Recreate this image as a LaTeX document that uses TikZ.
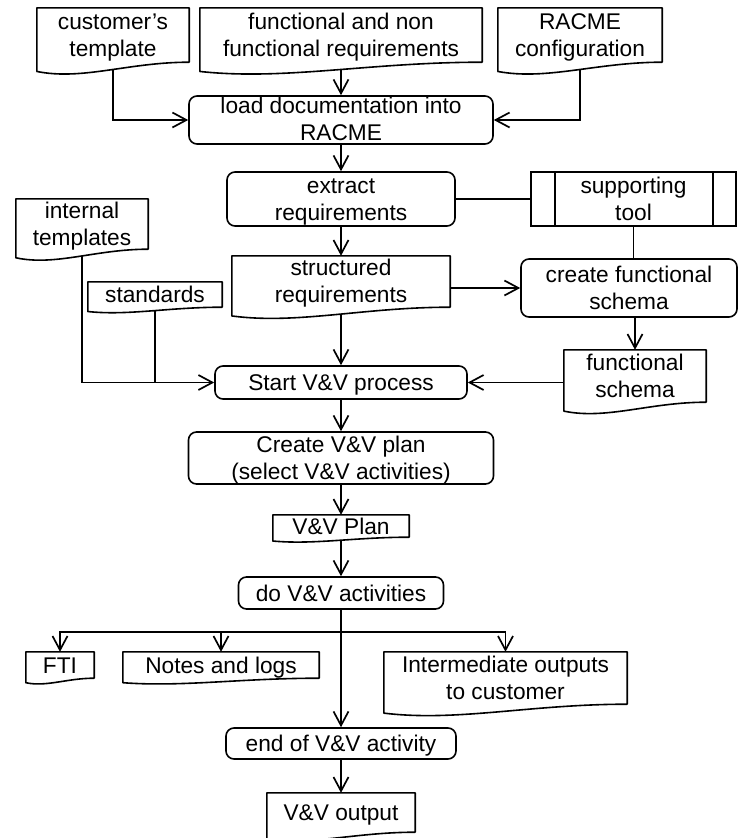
\documentclass[tikz,border=0pt]{standalone}
\usepackage{fontspec}
\setmainfont{Liberation Sans}
\usetikzlibrary{arrows.meta,calc,backgrounds}

% label text with a fixed baseline position relative to the node centre;
% the optional argument gives the drop of the last baseline
\newcommand\oneln[1]{\raisebox{-8pt}[0pt][0pt]{#1}}
\newcommand\twoln[3][21pt]{\raisebox{-#1}[0pt][0pt]{\begin{tabular}[b]{@{}c@{}}#2\\#3\end{tabular}}}

\begin{document}
\begin{tikzpicture}[x=1pt,y=-1pt,
  font=\fontsize{22.7}{27}\selectfont,
  txt/.style={inner sep=0pt, text=black},
  procbox/.style={txt, draw, line width=1.6pt, rounded corners=8pt},
  docbox/.style={txt},
  toolbox/.style={txt, draw, line width=1.6pt},
  conn/.style={line width=1.7pt},
  arr/.style={conn, -{Straight Barb[length=14pt,width=15pt]}},
  docline/.style={draw, line width=1.6pt, fill=white, line join=round},
]
\clip (0,0) rectangle (738,838);

% input documents
\node[docbox, minimum width=152, minimum height=54] (cust) at (113,35) {\twoln{customer’s}{template}};
\node[docbox, minimum width=282, minimum height=54] (freq) at (341,35) {\twoln{functional and non}{functional requirements}};
\node[docbox, minimum width=164, minimum height=54] (cfg) at (580,35) {\twoln{RACME}{configuration}};

% requirement processing
\node[procbox, minimum width=304, minimum height=48] (load) at (341,120) {\twoln[20pt]{load documentation into}{RACME}};
\node[procbox, minimum width=228, minimum height=54] (extract) at (341,199) {\twoln{extract}{requirements}};
\node[toolbox, minimum width=205, minimum height=54] (tool) at (633.5,199) {\twoln{supporting}{tool}};
\node[docbox, minimum width=218, minimum height=51] (structured) at (341,281.5) {\twoln{structured}{requirements}};
\node[procbox, minimum width=216, minimum height=58] (create) at (629,288) {\twoln{create functional}{schema}};
\node[docbox, minimum width=142, minimum height=52] (schema) at (635,376) {\twoln{functional}{schema}};
\node[docbox, minimum width=132, minimum height=50] (internal) at (82,224) {\twoln{internal}{templates}};
\node[docbox, minimum width=134, minimum height=25] (standards) at (155,294.5) {\oneln{standards}};

% V&V flow
\node[procbox, minimum width=252, minimum height=33] (start) at (341,382.5) {\oneln{Start V\&V process}};
\node[procbox, minimum width=305, minimum height=52] (plan) at (341,458) {\twoln{Create V\&V plan}{(select V\&V activities)}};
\node[docbox, minimum width=136, minimum height=22] (vvplan) at (341,526) {\oneln{V\&V Plan}};
\node[procbox, minimum width=205, minimum height=32] (do) at (341,593) {\oneln{do V\&V activities}};
\node[docbox, minimum width=68, minimum height=26] (fti) at (60,665) {\oneln{FTI}};
\node[docbox, minimum width=196, minimum height=26] (notes) at (221,665) {\oneln{Notes and logs}};
\node[docbox, minimum width=243, minimum height=52] (inter) at (505.5,678) {\twoln{Intermediate outputs}{to customer}};
\node[procbox, minimum width=230, minimum height=31] (endact) at (341,743.5) {\oneln{end of V\&V activity}};
\node[docbox, minimum width=148, minimum height=39] (output) at (341,812.5) {\oneln{V\&V output}};

% side bars of the predefined-process box
\draw[line width=1.6pt] ([xshift=25pt]tool.north west) -- ([xshift=25pt]tool.south west);
\draw[line width=1.6pt] ([xshift=-24pt]tool.north east) -- ([xshift=-24pt]tool.south east);

\coordinate (split) at ($(do.south)+(0,22)$);

\begin{scope}[on background layer]
  % connectors
  \draw[arr] (cust.south) |- (load.west);
  \draw[arr] (freq.south) -- (load.north);
  \draw[arr] (cfg.south) |- (load.east);
  \draw[arr] (load) -- (extract);
  \draw[conn] (extract) -- (tool);
  \draw[arr] (extract) -- (structured);
  \draw[conn] (tool.south) -- (tool.south |- create.north);
  \draw[arr] (structured.east |- create.west) -- (create.west);
  \draw[arr] (schema.north |- create.south) -- (schema.north);
  \draw[arr] (schema.west |- start.east) -- (start.east);
  \draw[arr] (structured.south) -- (start.north);
  \draw[arr] (internal.south) |- (start.west);
  \draw[conn] (standards.south) -- (standards.south |- start.west);
  \draw[arr] (start) -- (plan);
  \draw[arr] (plan) -- (vvplan);
  \draw[arr] (vvplan.south) -- (do.north);
  \draw[conn] (do.south) -- (split);
  \draw[arr] (split) -| (fti.north);
  \draw[arr] (split) -| (notes.north);
  \draw[arr] (split) -| (inter.north);
  \draw[arr] (do.south) -- (endact.north);
  \draw[arr] (endact) -- (output);

  % document outlines with wavy lower edge
  \foreach \d in {cust,freq,cfg,structured,schema,internal,standards,vvplan,fti,notes,inter,output}
    \draw[docline] let \p1=(\d.south west), \p2=(\d.north east),
        \n1={0.17*(\y2-\y1)}, \n2={\x2-\x1} in
      (\x1,\y2) -- (\x2,\y2) -- (\x2,\y1)
      .. controls (\x1+0.6*\n2,\y1) and (\x1+0.3*\n2,\y1-2*\n1) .. (\x1,\y1-\n1) -- cycle;
\end{scope}
\end{tikzpicture}
\end{document}
